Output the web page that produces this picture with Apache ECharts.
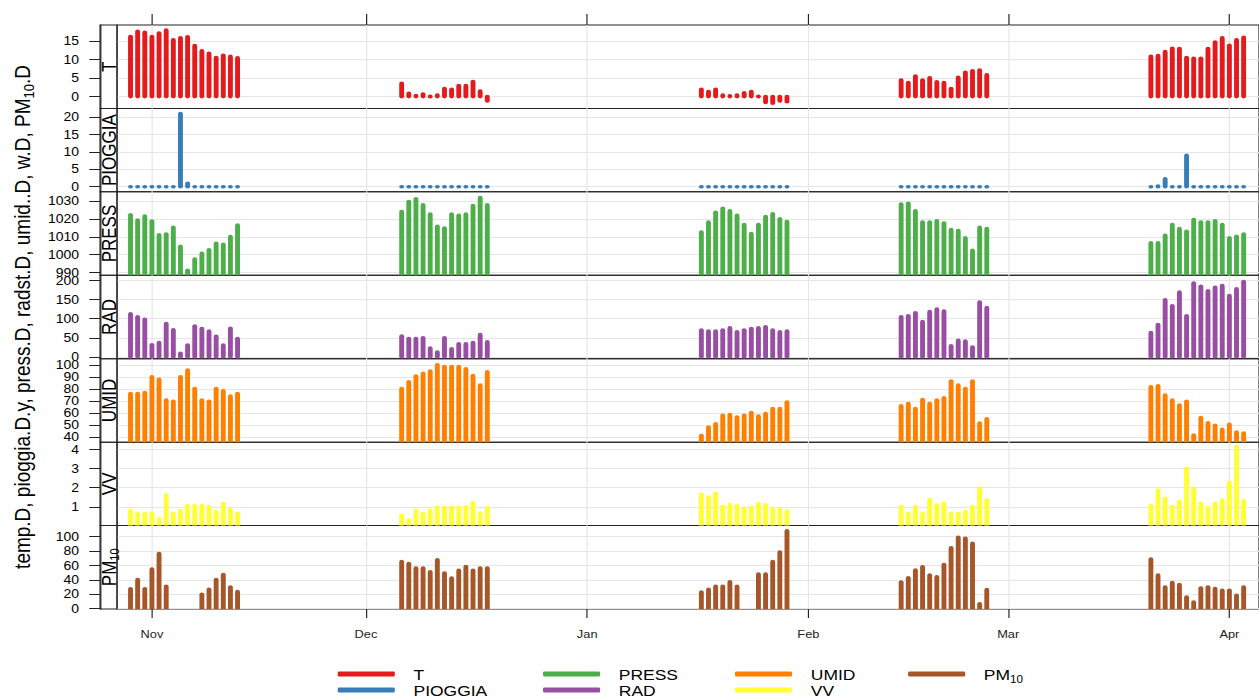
<!DOCTYPE html>
<html>
<head>
<meta charset="utf-8">
<script src="https://cdn.jsdelivr.net/npm/echarts@6.0.0/dist/echarts.min.js"></script>
<style>
  html, body { margin: 0; padding: 0; background: #fff; overflow: hidden; }
  #chart { width: 1080px; height: 700px; transform: scaleX(1.16574); transform-origin: 0 0; }
</style>
</head>
<body>
<div id="chart"></div>
<script>
// Daily observations, five sampling campaigns
const dates = [
  '2014-10-29','2014-10-30','2014-10-31','2014-11-01','2014-11-02','2014-11-03','2014-11-04','2014-11-05',
  '2014-11-06','2014-11-07','2014-11-08','2014-11-09','2014-11-10','2014-11-11','2014-11-12','2014-11-13',
  '2014-12-06','2014-12-07','2014-12-08','2014-12-09','2014-12-10','2014-12-11','2014-12-12','2014-12-13',
  '2014-12-14','2014-12-15','2014-12-16','2014-12-17','2014-12-18',
  '2015-01-17','2015-01-18','2015-01-19','2015-01-20','2015-01-21','2015-01-22','2015-01-23','2015-01-24',
  '2015-01-25','2015-01-26','2015-01-27','2015-01-28','2015-01-29',
  '2015-02-14','2015-02-15','2015-02-16','2015-02-17','2015-02-18','2015-02-19','2015-02-20','2015-02-21',
  '2015-02-22','2015-02-23','2015-02-24','2015-02-25','2015-02-26',
  '2015-03-21','2015-03-22','2015-03-23','2015-03-24','2015-03-25','2015-03-26','2015-03-27','2015-03-28',
  '2015-03-29','2015-03-30','2015-03-31','2015-04-01','2015-04-02','2015-04-03'
];

const temp = [
  16.3,17.7,17.4,16.3,17.2,18.0,15.4,15.9,16.2,13.8,12.4,11.7,10.6,11.2,10.9,10.5,
  3.6,0.9,0.3,0.7,0.1,0.4,2.2,2.0,3.0,3.0,4.1,1.5,-1.2,
  2.0,1.4,2.0,0.4,0.2,0.4,1.0,1.4,0.1,-1.6,-1.8,-1.2,-1.4,
  4.5,3.8,5.6,4.5,5.1,4.0,3.8,2.2,5.2,6.6,7.0,7.2,5.9,
  10.9,11.1,12.2,13.1,13.0,10.6,10.4,10.4,13.0,14.8,15.9,13.9,15.4,16.1
];
const pioggia = [
  0,0,0,0,0,0,0,21.0,1.0,0,0,0,0,0,0,0,
  0,0,0,0,0,0,0,0,0,0,0,0,0,
  0,0,0,0,0,0,0,0,0,0,0,0,0,
  0,0,0,0,0,0,0,0,0,0,0,0,0,
  0,0.2,2.3,0,0,9.0,0,0,0,0,0,0,0,0
];
const press = [
  1022.4,1019.4,1021.6,1018.8,1011.1,1011.6,1015.3,1004.6,991.2,997.5,1000.7,1002.7,1006.4,1005.8,1010.1,1016.6,
  1024.2,1029.8,1031.3,1027.9,1022.7,1015.9,1014.9,1022.7,1022.0,1022.7,1027.5,1032.0,1027.9,
  1012.7,1018.3,1023.8,1026.0,1024.6,1022.0,1016.8,1011.8,1016.8,1021.4,1022.9,1020.1,1018.6,
  1028.3,1028.8,1024.6,1018.3,1018.3,1019.0,1017.7,1014.0,1013.5,1009.4,1002.4,1015.3,1014.6,
  1006.6,1006.6,1010.9,1016.8,1014.6,1013.1,1019.6,1018.3,1018.3,1019.0,1016.8,1009.4,1010.3,1011.6
];
const rad = [
  112.7,105,98.2,31.5,37.3,87.6,71.2,9.3,30.6,80.8,74.1,67.3,53.8,30.6,75,48,
  54.7,48,48,49.9,22.9,12.2,49.9,20.9,34.4,34.4,37.3,58.6,39.3,
  70.2,67.3,67.3,70.2,76,65.4,70.2,74,76,78.9,70.2,65.4,67.3,
  105,107.9,115.6,92.4,118.5,125.2,120.4,28.6,43.1,41.2,25.8,143.6,129.1,
  63.4,84.7,149.4,134,169.7,107.9,193.8,185.1,173.5,182.2,187.1,161,178.4,197.7
];
const umid = [
  76.5,76.5,77.3,90.5,88.3,71.0,70.1,90.5,96.1,80.7,71.0,70.1,80.7,78.8,74.3,76.5,
  80.7,86.3,91.1,93.3,95.3,100.5,98.9,98.9,98.9,97.0,91.4,83.5,94.7,
  41.5,48.6,51.3,58.4,58.9,57.0,58.4,60.6,57.8,59.8,63.9,63.9,69.5,
  66.2,68.1,63.9,71.5,68.1,71.0,72.9,86.9,83.5,80.7,86.9,51.9,55.5,
  82.1,83.0,75.2,71.0,66.8,70.1,42.0,56.4,52.2,50.0,46.6,50.8,44.4,43.5
];
const vv = [
  0.80,0.66,0.66,0.66,0.37,1.62,0.66,0.80,1.06,1.06,1.06,1.01,0.75,1.18,0.87,0.66,
  0.56,0.32,0.82,0.66,0.82,0.98,0.98,0.98,0.98,1.00,1.21,0.66,0.96,
  1.65,1.51,1.71,1.02,1.11,1.06,0.92,0.98,1.18,1.11,0.92,0.86,0.78,
  1.01,0.66,1.01,0.66,1.39,1.10,1.18,0.66,0.66,0.75,1.01,1.97,1.36,
  1.06,1.88,1.44,1.01,1.27,3.01,1.97,1.18,0.96,1.18,1.36,2.28,4.15,1.31
];
const pm10 = [
  27.6,40.3,27.6,54.8,76.6,31.0,null,null,null,null,19.8,26.8,40.3,47.2,30.0,23.6,
  65.2,62.6,56.3,56.3,51.0,67.9,49.5,42.5,53.1,58.4,53.1,56.3,56.3,
  22.9,26.7,30.9,30.9,37.3,30.9,null,null,47.8,47.8,65.2,78.5,108.0,
  37.0,42.6,53.4,58.0,46.4,44.0,61.2,84.5,98.9,97.5,90.5,6.7,26.3,
  68.7,46.4,30.0,36.0,33.3,16.1,9.1,28.6,30.0,27.7,25.4,25.4,18.4,30.0
];

// Axis ticks
const monthTicks  = ['2014-11-01','2014-12-01','2015-01-01','2015-02-01','2015-03-01','2015-04-01'];
const monthLabels = ['Nov','Dec','Jan','Feb','Mar','Apr'];
const ticksT     = [0, 5, 10, 15];
const ticksRain  = [0, 5, 10, 15, 20];
const ticksPress = [990, 1000, 1010, 1020, 1030];
const ticksRad   = [0, 50, 100, 150, 200];
const ticksUmid  = [40, 50, 60, 70, 80, 90, 100];
const ticksVV    = [1, 2, 3, 4];
const ticksPM    = [0, 20, 40, 60, 80, 100];

const toTime = s => { const p = s.split('-').map(Number); return Date.UTC(p[0], p[1] - 1, p[2]); };
const dayMs = 86400000;
const monthTimes = monthTicks.map(toTime);
const xMin = toTime('2014-11-01') - 4.889 * dayMs;
const xMax = xMin + 160.04 * dayMs;

const FONT = 'Liberation Sans, Arial, sans-serif';
const LINE_W = 4.2;   // bar stroke width
const CAP = 1.8;      // rounded line end overhang

const panels = [
  { name: 'T',       label: 'T',                 values: temp,    color: '#E41A1C', min: -3.2,  max: 19.4,   ticks: ticksT },
  { name: 'PIOGGIA', label: 'PIOGGIA',           values: pioggia, color: '#377EB8', min: -1.48, max: 22.5,   ticks: ticksRain },
  { name: 'PRESS',   label: 'PRESS',             values: press,   color: '#4DAF4A', min: 988.4, max: 1035.2, ticks: ticksPress },
  { name: 'RAD',     label: 'RAD',               values: rad,     color: '#984EA3', min: -5,    max: 214,    ticks: ticksRad },
  { name: 'UMID',    label: 'UMID',              values: umid,    color: '#FF7F00', min: 36,    max: 105.5,  ticks: ticksUmid },
  { name: 'VV',      label: 'VV',                values: vv,      color: '#FFFF33', min: 0.02,  max: 4.38,   ticks: ticksVV },
  { name: 'PM10',    label: '{a|PM}{s|10}',      values: pm10,    color: '#A65628', min: -0.6,  max: 115.3,  ticks: ticksPM }
];

const TOP = 25, PH = 584 / 7, LEFT = 100.4, WIDTH = 982, STRIP = 14.6;
const FRAME = '#222', GRIDC = '#e6e6e6';

const grids = [], xAxes = [], yAxes = [], series = [], graphics = [];

panels.forEach((p, i) => {
  const top = TOP + i * PH;
  grids.push({ left: LEFT, top: top, width: WIDTH, height: PH, show: true,
               borderColor: FRAME, borderWidth: 1, backgroundColor: 'transparent' });

  const isTop = i === 0, isBottom = i === panels.length - 1;
  xAxes.push({
    type: 'value', gridIndex: i, min: xMin, max: xMax,
    position: isTop ? 'top' : 'bottom',
    axisLine: { show: false, onZero: false },
    axisTick: { show: isTop || isBottom, length: isTop ? 11 : 9, customValues: monthTimes,
                lineStyle: { color: FRAME, width: 1 } },
    axisLabel: { show: isBottom, customValues: monthTimes, margin: 20, fontSize: 11,
                 color: '#222', fontFamily: FONT,
                 formatter: v => { const k = monthTimes.indexOf(v); return k >= 0 ? monthLabels[k] : ''; } },
    splitLine: { show: true, lineStyle: { color: GRIDC, width: 1 } }
  });

  yAxes.push({
    type: 'value', gridIndex: i, min: p.min, max: p.max, position: 'left', offset: STRIP,
    axisLine: { show: true, onZero: false, lineStyle: { color: FRAME, width: 1 } },
    axisTick: { show: true, length: 9.2, customValues: p.ticks, lineStyle: { color: FRAME, width: 1 } },
    axisLabel: { show: true, customValues: p.ticks, margin: 18, fontSize: 12, color: '#000', fontFamily: FONT,
                 formatter: v => String(v) },
    splitLine: { show: true, lineStyle: { color: GRIDC, width: 1 } }
  });

  const data = [];
  dates.forEach((d, k) => { if (p.values[k] != null) data.push([toTime(d), p.values[k]]); });

  const base = p.min > 0 ? p.min : (p.max < 0 ? p.max : 0);
  series.push({
    type: 'custom', name: p.name, xAxisIndex: i, yAxisIndex: i,
    itemStyle: { color: p.color },
    encode: { x: 0, y: 1 },
    data: data,
    renderItem: (params, api) => {
      const x = api.value(0), v = api.value(1);
      const cs = params.coordSys;
      const pv = api.coord([x, v]);
      const pb = api.coord([x, base]);
      let y0 = Math.min(pv[1], pb[1]) - CAP;
      let y1 = Math.max(pv[1], pb[1]) + CAP;
      const cutTop = y0 < cs.y, cutBot = y1 > cs.y + cs.height;
      y0 = Math.max(y0, cs.y);
      y1 = Math.min(y1, cs.y + cs.height);
      const r = LINE_W / 2;
      return {
        type: 'rect',
        shape: { x: pv[0] - r, y: y0, width: LINE_W, height: y1 - y0,
                 r: [cutTop ? 0 : r, cutTop ? 0 : r, cutBot ? 0 : r, cutBot ? 0 : r] },
        style: { fill: p.color }
      };
    }
  });

  // strip with the variable name
  graphics.push({ type: 'rect', shape: { x: LEFT - STRIP, y: top, width: STRIP, height: PH },
                  style: { fill: 'none', stroke: FRAME, lineWidth: 1 }, z: 10 });
  graphics.push({ type: 'text', x: LEFT - STRIP / 2 + 0.5, y: top + PH / 2, rotation: Math.PI / 2, z: 10,
                  style: { text: p.label, fontSize: 17, fontFamily: FONT, fill: '#000',
                           align: 'center', verticalAlign: 'middle',
                           rich: { a: { fontSize: 17, fontFamily: FONT, fill: '#000' },
                                   s: { fontSize: 11, fontFamily: FONT, fill: '#000', padding: [10, 0, 0, 0] } } } });
});

// overall y-axis title
graphics.push({ type: 'text', x: 19, y: 317, rotation: Math.PI / 2,
  style: { text: '{a|temp.D, pioggia.D.y, press.D, radst.D, umid..D, w.D, PM}{s|10}{a|.D}',
           align: 'center', verticalAlign: 'middle',
           rich: { a: { fontSize: 19, fontFamily: FONT, fill: '#000' },
                   s: { fontSize: 13, fontFamily: FONT, fill: '#000', padding: [11, 0, 0, 0] } } } });

// key: two rows, four columns
const keyCols = [289.7, 465.8, 630.5, 779.0];
const keyRows = [666.5, 682.5];
const keyLayout = [['T', 0, 0], ['PIOGGIA', 0, 1], ['PRESS', 1, 0], ['RAD', 1, 1],
                   ['UMID', 2, 0], ['VV', 2, 1], ['PM10', 3, 0]];
const legends = keyLayout.map(([name, c, r]) => {
  const p = panels.find(q => q.name === name);
  return {
    left: keyCols[c], top: keyRows[r], padding: 0, orient: 'horizontal',
    icon: 'roundRect', itemWidth: 49, itemHeight: 5, selectedMode: false,
    data: [{ name: name, itemStyle: { color: p.color } }],
    formatter: n => n === 'PM10' ? '{a|PM}{s|10}' : n,
    textStyle: { fontSize: 15, fontFamily: FONT, color: '#000', padding: [0, 0, 0, 11],
                 rich: { a: { fontSize: 15, fontFamily: FONT, color: '#000' },
                         s: { fontSize: 10, fontFamily: FONT, color: '#000', padding: [10, 0, 0, 0] } } }
  };
});

const chart = echarts.init(document.getElementById('chart'), null, { renderer: 'svg', width: 1080, height: 700 });
chart.setOption({
  animation: false,
  backgroundColor: '#fff',
  grid: grids,
  xAxis: xAxes,
  yAxis: yAxes,
  legend: legends,
  series: series,
  graphic: graphics
});
</script>
</body>
</html>
